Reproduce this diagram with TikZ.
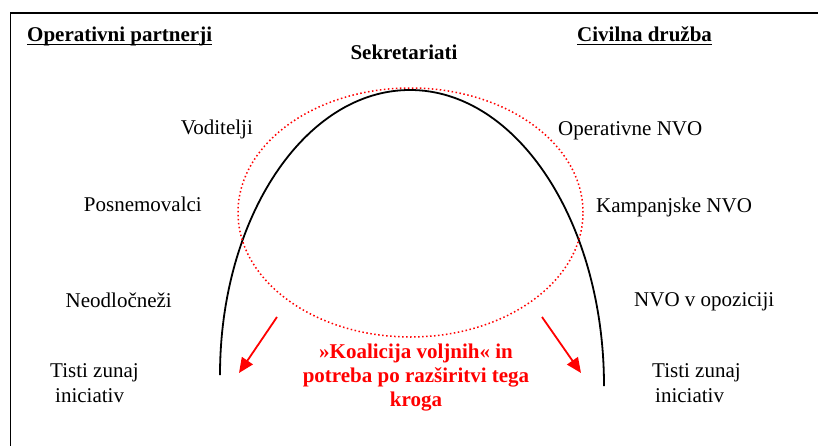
\documentclass[tikz,border=0pt]{standalone}
\usepackage{fontspec}
\setmainfont{Liberation Serif}
\usetikzlibrary{arrows.meta}
\usetikzlibrary{positioning}
\tikzset{
	>={Triangle[length=15pt,width=13pt]},
	role/.style={
		inner sep=0pt,
		font=\fontsize{21}{24}\selectfont},
	heading/.style={
		role,
		font=\fontsize{21}{24}\selectfont\bfseries},
	coalition/.style={
		heading,
		text=red,
		align=center},
	underl/.style={line width=1.6pt},
	arch/.style={draw=black, line width=1.8pt},
	core/.style={draw=red, line width=1.5pt, dash pattern=on 1.5pt off 2.5pt},
	spread/.style={draw=red, line width=1.8pt, ->},
}

\begin{document}
\begin{tikzpicture}[x=1pt,y=1pt]
	\useasboundingbox (0,0) rectangle (818,445);
	
	% frame
	\draw[line width=1.8pt] (10.5,-5) -- (10.5,432) -- (825,432);
	
	% headings
	\node[heading, anchor=base west] (opp) at (27,403.5) {Operativni partnerji};
	\node[heading, anchor=base west] (civ) at (577,403.5) {Civilna družba};
	\draw[underl] ([yshift=-3pt]opp.base west) -- ([yshift=-3pt]opp.base east);
	\draw[underl] ([yshift=-3pt]civ.base west) -- ([yshift=-3pt]civ.base east);
	\node[heading, anchor=base] (sek) at (404,385) {Sekretariati};
	
	% arch and core
	\draw[arch] (220,70) arc[start angle=180, end angle=90, x radius=190, y radius=285]
		arc[start angle=90, end angle=0, x radius=194, y radius=296];
	\draw[core] (410.5,232.5) ellipse[x radius=172.5, y radius=124.5];
	
	% left side
	\node[role, anchor=base east] (vod) at (253,310) {Voditelji};
	\node[role, anchor=base east] (pos) at (202,234) {Posnemovalci};
	\node[role, anchor=base east] (neo) at (172,138) {Neodločneži};
	\node[role, anchor=base west] (lzun) at (50,68) {Tisti zunaj};
	\node[role, anchor=base west] (lini) at ([xshift=5pt,yshift=-25pt]lzun.base west) {iniciativ};
	
	% right side
	\node[role, anchor=base west] (onvo) at (558,309) {Operativne NVO};
	\node[role, anchor=base west] (knvo) at (596,233) {Kampanjske NVO};
	\node[role, anchor=base west] (nopo) at (634,139) {NVO v opoziciji};
	\node[role, anchor=base west] (rzun) at (652,68) {Tisti zunaj};
	\node[role, anchor=base west] (rini) at ([xshift=3pt,yshift=-25pt]rzun.base west) {iniciativ};
	
	% coalition
	\node[coalition] (koal) at (416,67) {»Koalicija voljnih« in\\potreba po razširitvi tega\\kroga};
	\coordinate (ls) at (277,128);
	\coordinate (le) at (239,72);
	\coordinate (rs) at (542,128);
	\coordinate (re) at (581,72);
	\draw[spread] (ls) -- (le);
	\draw[spread] (rs) -- (re);
	
\end{tikzpicture}
\end{document}
